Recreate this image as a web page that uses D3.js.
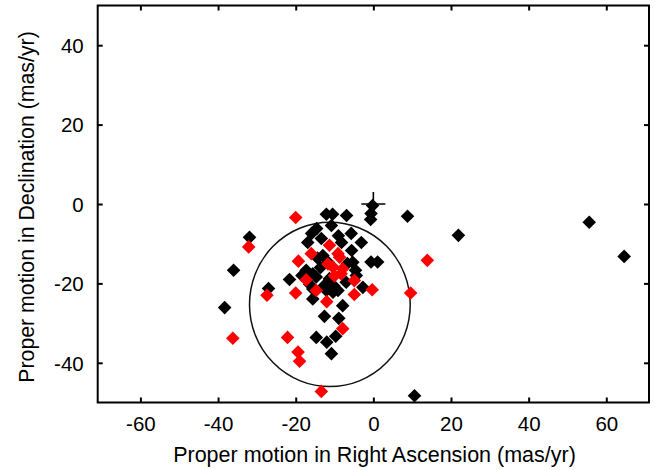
<!DOCTYPE html>
<html>
<head>
<meta charset="utf-8">
<script src="https://cdn.jsdelivr.net/npm/d3@7"></script>
<style>
  body { margin: 0; background: #fff; }
  svg { display: block; }
  text { font-family: "Liberation Sans", Arial, Helvetica, sans-serif; fill: #000; }
</style>
</head>
<body>
<svg id="chart" width="655" height="470"></svg>
<script>
// Proper motions (mas/yr): right ascension and declination
const blackRA  = [55.6, 64.6, 21.9, 8.8, 10.6, -38.3, -36.0, -31.9, -27.0, -21.6,
                  -0.2, -0.6, -0.7, -12.1, -10.5, -6.9, -10.8, -14.6, -15.9, -16.9,
                  -5.7, -3.1, -5.6, -8.2, -0.6, 1.1, -5.3, -6.7, -13.0, -14.4,
                  -17.3, -15.6, -11.3, -4.6, -14.7, -12.6, -7.0, -4.4, -2.7, -10.4,
                  -9.1, -15.6, -15.6, -7.9, -12.6, -8.9, -14.7, -12.0, -9.7, -10.8,
                  -12.1, -11.7, -13.4, -18.4, -13.6, -16.4, -10.2, -9.0];
const blackDec = [-4.6, -13.2, -7.9, -3.1, -48.3, -26.1, -16.7, -8.4, -21.3, -19.0,
                  -0.4, -2.4, -3.9, -2.6, -2.6, -2.9, -5.4, -6.2, -7.4, -9.7,
                  -7.4, -9.7, -11.7, -9.7, -14.6, -14.6, -14.7, -15.0, -13.0, -13.6,
                  -16.7, -17.6, -18.8, -16.7, -18.4, -20.5, -19.7, -18.0, -21.0, -22.2,
                  -21.8, -21.4, -23.9, -25.6, -28.3, -28.8, -33.6, -34.8, -33.3, -37.7,
                  -21.8, -14.6, -8.7, -18.0, -16.0, -20.2, -20.6, -8.0];

const redRA  = [-20.0, -32.1, -27.4, -20.0, -36.2, -22.1, -19.3, -19.4, -19.0, -13.4,
                -12.0, -4.9, -0.3, 9.6, 13.9, -7.9, -17.3, -14.7, -10.0, -8.3,
                -10.4, -8.7, -11.3, -9.1, -16.0, -7.9, -4.9, -11.7];
const redDec = [-3.4, -10.8, -23.0, -22.4, -33.8, -33.6, -14.4, -37.3, -39.6, -47.2,
                -24.6, -22.8, -21.6, -22.4, -14.2, -31.4, -19.1, -21.8, -18.1, -17.6,
                -15.9, -13.4, -10.4, -12.5, -12.5, -16.3, -19.3, -15.1];

const xTicks = [-60, -40, -20, 0, 20, 40, 60];
const yTicks = [-40, -20, 0, 20, 40];

// Reference point and the selection ring around the group
const refPoint = [0, 0];
const ringCentre = [-11.2, -25.3];
const ringRadius = 20.7;

const svg = d3.select("#chart");
const plotLeft = 97.7, plotRight = 649, plotTop = 5.5, plotBottom = 402.5;

const x = d3.scaleLinear().domain([-71, 71]).range([plotLeft, plotRight]);
const y = d3.scaleLinear().domain([-50, 50]).range([plotBottom, plotTop]);

const tickLen = 5;
const plainNumber = d => String(d);

// Axes with inward ticks on all four sides
const gx = svg.append("g").attr("transform", `translate(0,${plotBottom})`)
  .call(d3.axisBottom(x).tickValues(xTicks).tickSize(-tickLen).tickPadding(14).tickFormat(plainNumber));
const gxt = svg.append("g").attr("transform", `translate(0,${plotTop})`)
  .call(d3.axisTop(x).tickValues(xTicks).tickSize(-tickLen).tickFormat(""));
const gy = svg.append("g").attr("transform", `translate(${plotLeft},0)`)
  .call(d3.axisLeft(y).tickValues(yTicks).tickSize(-tickLen).tickPadding(14).tickFormat(plainNumber));
const gyr = svg.append("g").attr("transform", `translate(${plotRight},0)`)
  .call(d3.axisRight(y).tickValues(yTicks).tickSize(-tickLen).tickFormat(""));

[gx, gxt, gy, gyr].forEach(g => {
  g.select(".domain").remove();
  g.selectAll(".tick line").attr("stroke", "#000").attr("stroke-width", 2);
  g.selectAll(".tick text").attr("font-size", 20.5).attr("fill", "#000")
    .attr("font-family", "Liberation Sans, Arial, sans-serif");
});
gy.selectAll(".tick text").attr("dy", "0.36em");

// Plot frame
svg.append("rect")
  .attr("x", plotLeft).attr("y", plotTop)
  .attr("width", plotRight - plotLeft).attr("height", plotBottom - plotTop)
  .attr("fill", "none").attr("stroke", "#000").attr("stroke-width", 2);

// Ring
svg.append("ellipse")
  .attr("cx", x(ringCentre[0])).attr("cy", y(ringCentre[1]))
  .attr("rx", x(ringCentre[0] + ringRadius) - x(ringCentre[0]))
  .attr("ry", y(ringCentre[1]) - y(ringCentre[1] + ringRadius))
  .attr("fill", "none").attr("stroke", "#111").attr("stroke-width", 1.5);

const h = 6.8;
const diamond = `M0,${-h}L${h},0L0,${h}L${-h},0Z`;

function drawSeries(ra, dec, colour) {
  svg.append("g").selectAll("path")
    .data(d3.zip(ra, dec))
    .join("path")
    .attr("d", diamond)
    .attr("transform", d => `translate(${x(d[0])},${y(d[1])})`)
    .attr("fill", colour);
}
drawSeries(blackRA, blackDec, "#000");
drawSeries(redRA, redDec, "#ff0000");

// Reference cross
const cx = x(refPoint[0]), cy = y(refPoint[1]);
svg.append("path")
  .attr("d", `M${cx - 12},${cy}H${cx + 12}M${cx},${cy - 12}V${cy + 11}`)
  .attr("stroke", "#000").attr("stroke-width", 1.6).attr("fill", "none");

// Axis titles
svg.append("text")
  .attr("x", 374.5).attr("y", 462)
  .attr("text-anchor", "middle").attr("font-size", 21.5)
  .text("Proper motion in Right Ascension (mas/yr)");
svg.append("text")
  .attr("transform", "translate(34,207) rotate(-90)")
  .attr("text-anchor", "middle").attr("font-size", 21.3)
  .text("Proper motion in Declination (mas/yr)");
</script>
</body>
</html>
